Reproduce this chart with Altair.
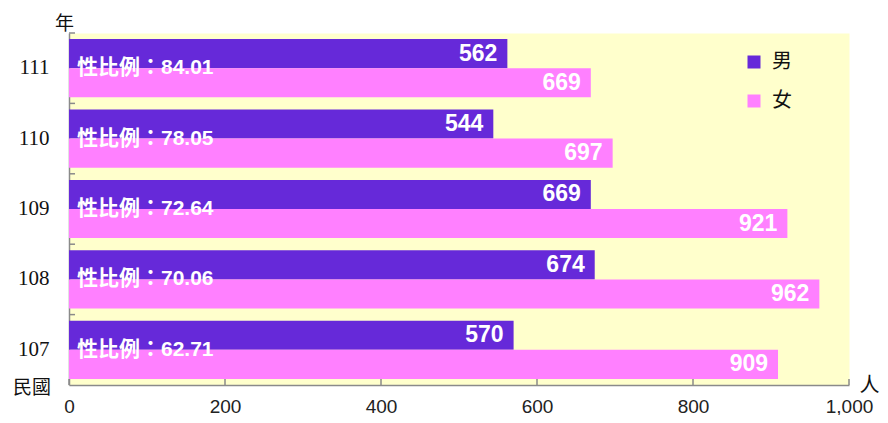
import altair as alt
import pandas as pd

years = ["111", "110", "109", "108", "107"]
male = [562, 544, 669, 674, 570]
female = [669, 697, 921, 962, 909]
ratios = ["84.01", "78.05", "72.64", "70.06", "62.71"]
sexes = ["男", "女"]
colors = ["#6629D9", "#FF80FF"]
x_ticks = [0, 200, 400, 600, 800, 1000]

rows = []
for y, m, f in zip(years, male, female):
    rows.append({"year": y, "sex": sexes[0], "value": m})
    rows.append({"year": y, "sex": sexes[1], "value": f})
df = pd.DataFrame(rows)
ratio_df = pd.DataFrame({"year": years, "label": ["性比例：" + r for r in ratios]})
tick_df = pd.DataFrame({"t": x_ticks})
era_df = pd.DataFrame({"label": ["民國"]})

W, H = 780, 352
GRAY = "#8a8a8a"

xscale = alt.Scale(domain=[0, 1000], nice=False, zero=True)
yscale = alt.Scale(paddingInner=0, paddingOuter=0)
oscale = alt.Scale(paddingInner=0, paddingOuter=0.21)

xaxis = alt.Axis(values=x_ticks, format=",d", grid=False, ticks=False,
                 domainColor=GRAY, domainWidth=1.5,
                 labelFont="Liberation Sans", labelFontSize=19, labelColor="#222222",
                 labelPadding=12, labelFlush=False,
                 title="人", titleFont="Noto Sans CJK TC", titleFontSize=20,
                 titleFontWeight="normal", titleColor="#111111",
                 titleX=800, titleY=0, titleAngle=0, titleAlign="center",
                 titleBaseline="middle")
yaxis = alt.Axis(grid=False, ticks=False, domainColor=GRAY, domainWidth=1.5,
                 labelFont="Liberation Serif", labelFontSize=21, labelColor="#111111",
                 labelPadding=20,
                 title="年", titleFont="Noto Sans CJK TC", titleFontSize=19,
                 titleFontWeight="normal", titleColor="#111111",
                 titleX=-5, titleY=-10, titleAngle=0, titleAlign="center",
                 titleBaseline="middle")

Y = alt.Y("year:N", sort=years, scale=yscale, axis=yaxis)
YO = alt.YOffset("sex:N", sort=sexes, scale=oscale)

bars = alt.Chart(df).mark_bar().encode(
    x=alt.X("value:Q", scale=xscale, axis=xaxis),
    y=Y,
    yOffset=YO,
    color=alt.Color("sex:N", sort=sexes,
                    scale=alt.Scale(domain=sexes, range=colors),
                    legend=alt.Legend(title=None, orient="none", legendX=675, legendY=19,
                                      symbolType="square", symbolSize=169,
                                      symbolStrokeWidth=0, symbolOpacity=1,
                                      labelFont="Noto Sans CJK TC", labelFontSize=20,
                                      labelColor="#111111", labelOffset=8,
                                      rowPadding=19, padding=0)),
)

vals = alt.Chart(df).mark_text(align="right", baseline="middle", dx=-10, color="white",
                               font="Liberation Sans", fontSize=23, fontWeight="bold").encode(
    x=alt.X("value:Q", scale=xscale, axis=xaxis),
    y=Y,
    yOffset=YO,
    text=alt.Text("value:Q"),
)

ratio_text = alt.Chart(ratio_df).mark_text(align="left", baseline="middle", color="white",
                                           font="Liberation Sans, Noto Sans CJK TC",
                                           fontSize=21, fontWeight="bold").encode(
    x=alt.value(8),
    y=Y,
    text=alt.Text("label:N"),
)

xt = alt.Chart(tick_df).mark_rule(color=GRAY, strokeWidth=1.5).encode(
    x=alt.X("t:Q", scale=xscale, axis=xaxis),
    y=alt.value(H),
    y2=alt.value(H - 6),
)

yt = alt.Chart(ratio_df).mark_rule(color=GRAY, strokeWidth=1.5).encode(
    y=alt.Y("year:N", sort=years, scale=yscale, axis=yaxis, bandPosition=0),
    x=alt.value(0),
    x2=alt.value(6),
)

era = alt.Chart(era_df).mark_text(align="center", baseline="middle", font="Noto Sans CJK TC",
                                  fontSize=19, color="#111111").encode(
    x=alt.value(-37),
    y=alt.value(H + 3),
    text=alt.Text("label:N"),
)

chart = alt.layer(bars, vals, ratio_text, xt, yt, era).properties(
    width=W,
    height=H,
    autosize=alt.AutoSizeParams(type="none"),
    padding={"left": 61, "top": 25, "right": 31, "bottom": 30},
).configure_view(fill="#FFFFCC", stroke="transparent")

chart.save("out.html", embed_options={"renderer": "svg", "actions": False})
